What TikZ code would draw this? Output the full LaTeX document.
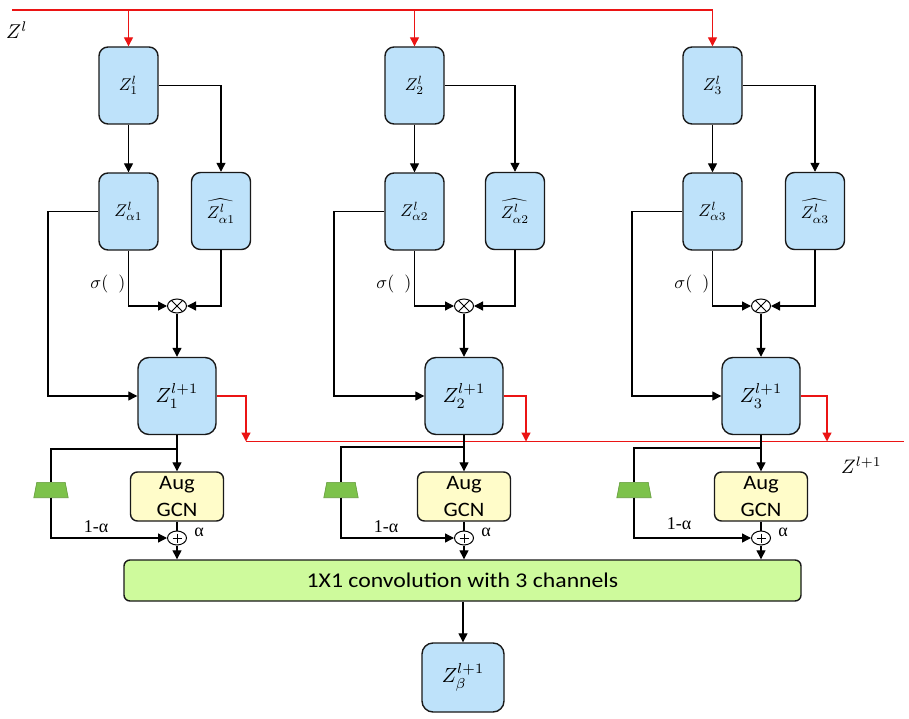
\documentclass[tikz,border=0pt]{standalone}
\usepackage{fontspec}
\newfontfamily\calfont{Carlito}
\newfontfamily\tmfont{Liberation Serif}
\usetikzlibrary{arrows.meta,shapes.geometric}
\definecolor{boxblue}{RGB}{190,226,250}
\definecolor{augyel}{RGB}{255,252,201}
\definecolor{convgreen}{RGB}{206,250,156}
\definecolor{trapgreen}{RGB}{125,194,75}
\definecolor{zred}{RGB}{235,20,20}
\newcommand\zs[1]{\scalebox{1.7}{$#1$}}
\newcommand\zb[1]{\scalebox{2.05}{$#1$}}
\tikzset{
 zbox/.style={draw=black!90, line width=1.4pt, fill=boxblue, rounded corners=9pt, minimum width=59pt, minimum height=77pt, inner sep=0pt},
 zbig/.style={zbox, minimum width=78pt, rounded corners=11pt},
 augbox/.style={draw=black!90, line width=1.4pt, fill=augyel, rounded corners=7pt, minimum width=93pt, minimum height=49pt, inner sep=0pt, align=center, font=\calfont\fontsize{20.5}{27}\selectfont},
 convbox/.style={draw=black!90, line width=1.4pt, fill=convgreen, rounded corners=6pt, minimum width=677pt, minimum height=41pt, inner sep=0pt, font=\calfont\fontsize{21}{24}\selectfont},
 mult/.style={ellipse, draw, line width=1pt, fill=white, minimum width=19pt, minimum height=14pt, inner sep=1pt},
 trapbox/.style={rectangle, minimum width=34pt, minimum height=15pt, inner sep=0pt},
 trapfill/.style={fill=trapgreen, draw=trapgreen!80!black, line width=0.6pt},
 conn/.style={line width=1.3pt, -{Triangle[length=9pt,width=9pt]}},
 plain/.style={line width=1.3pt},
 rline/.style={draw=zred, line width=1.3pt},
 rconn/.style={rline, -{Triangle[length=9pt,width=9pt]}},
 lab/.style={inner sep=0pt},
}
\begin{document}
\begin{tikzpicture}[x=1pt,y=-1pt]
\useasboundingbox (0,0) rectangle (909,719);
\fill[white] (0,0) rectangle (909,719);
\node[lab, anchor=south west] (zl) at (6,38.5) {\scalebox{2.0}{$Z^{l}$}};
\coordinate (tstart) at (12,10);
\coordinate (rend) at (904,441.5);
\node[lab, anchor=south west] (zlp) at (841,473.5) {\scalebox{1.95}{$Z^{l+1}$}};
\node[convbox] (conv) at (462.5,580.5) {\scalebox{1.13}[1]{1X1 convolution with 3 channels}};
\foreach \k/\xa/\xh/\xm/\xl/\xt/\xr/\by/\ya in {1/128.5/221/177/48/51/246/449/527, 2/414.5/515/464/334/341/526/447/527, 3/712.5/815/761/632/634/827/448/524}{
  \node[zbox] (z\k) at (\xa,85.5) {\zs{Z_{\k}^{l}}};
  \node[zbox] (za\k) at (\xa,211.5) {\zs{Z_{\alpha\k}^{l}}};
  \node[zbox] (h\k) at (\xh,211) {\zs{\widehat{Z_{\alpha\k}^{l}}}};
  \node[mult] (m\k) at (\xm,306) {};
  \draw[line width=0.9pt] (m\k.45) -- (m\k.225) (m\k.135) -- (m\k.315);
  \node[zbig] (zn\k) at (\xm,396) {\zb{Z_{\k}^{l+1}}};
  \node[augbox] (a\k) at (\xm,496.5) {\scalebox{1.1}[1]{Aug}\\\scalebox{1.1}[1]{GCN}};
  \node[mult] (p\k) at (\xm,538) {};
  \draw[line width=0.9pt] (p\k.center) ++(-4.5,0) -- ++(9,0) (p\k.center) ++(0,-4.5) -- ++(0,9);
  \node[trapbox] (tr\k) at (\xt,490) {};
  \filldraw[trapfill] (tr\k.south west) -- (tr\k.south east) -- ([xshift=-3pt]tr\k.north east) -- ([xshift=3pt]tr\k.north west) -- cycle;
  \node[lab, anchor=east] (s\k) at (\xa-3,284) {\scalebox{1.8}{$\sigma(\;\;)$}};
  \node[lab, font=\tmfont\fontsize{18}{20}\selectfont] (oa\k) at (\xt+45,\ya) {1-α};
  \node[lab, font=\tmfont\fontsize{18}{20}\selectfont] (al\k) at (\xm+22,532) {α};
  \draw[conn] (z\k.south) -- (za\k.north);
  \draw[conn] (z\k.east) -| (h\k.north);
  \draw[conn] (za\k.south) |- (m\k.west);
  \draw[conn] (h\k.south) |- (m\k.east);
  \draw[conn] (m\k.south) -- (zn\k.north);
  \coordinate (L\k) at (\xl,211.5);
  \draw[conn] (za\k.west) -- (L\k) |- (zn\k.west);
  \coordinate (r\k) at (\xr,441.5);
  \draw[rconn] (zn\k.east) -| (r\k);
  \coordinate (b\k) at (\xm,\by);
  \draw[plain] (b\k) -| (tr\k.north);
  \draw[conn] (tr\k.south) |- (p\k.west);
  \draw[plain] (a\k.south) -- (p\k.north);
  \draw[conn] (p\k.south) -- (p\k.south |- conv.north);
  \coordinate (t\k) at (\xa,10);
  \draw[rconn] (t\k) -- (z\k.north);
}
\fill[zred] ([yshift=0.7pt]r1) rectangle ([yshift=-0.7pt]rend);
\foreach \k in {1,2,3}{\draw[conn] (zn\k.south) -- (a\k.north);}
\draw[rline] (tstart) -- (t3);
\node[zbig, minimum width=82pt, minimum height=69pt] (zb) at (463,677.5) {\zb{Z_{\beta}^{l+1}}};
\draw[conn] (conv.south -| zb.north) -- (zb.north);
\end{tikzpicture}
\end{document}
